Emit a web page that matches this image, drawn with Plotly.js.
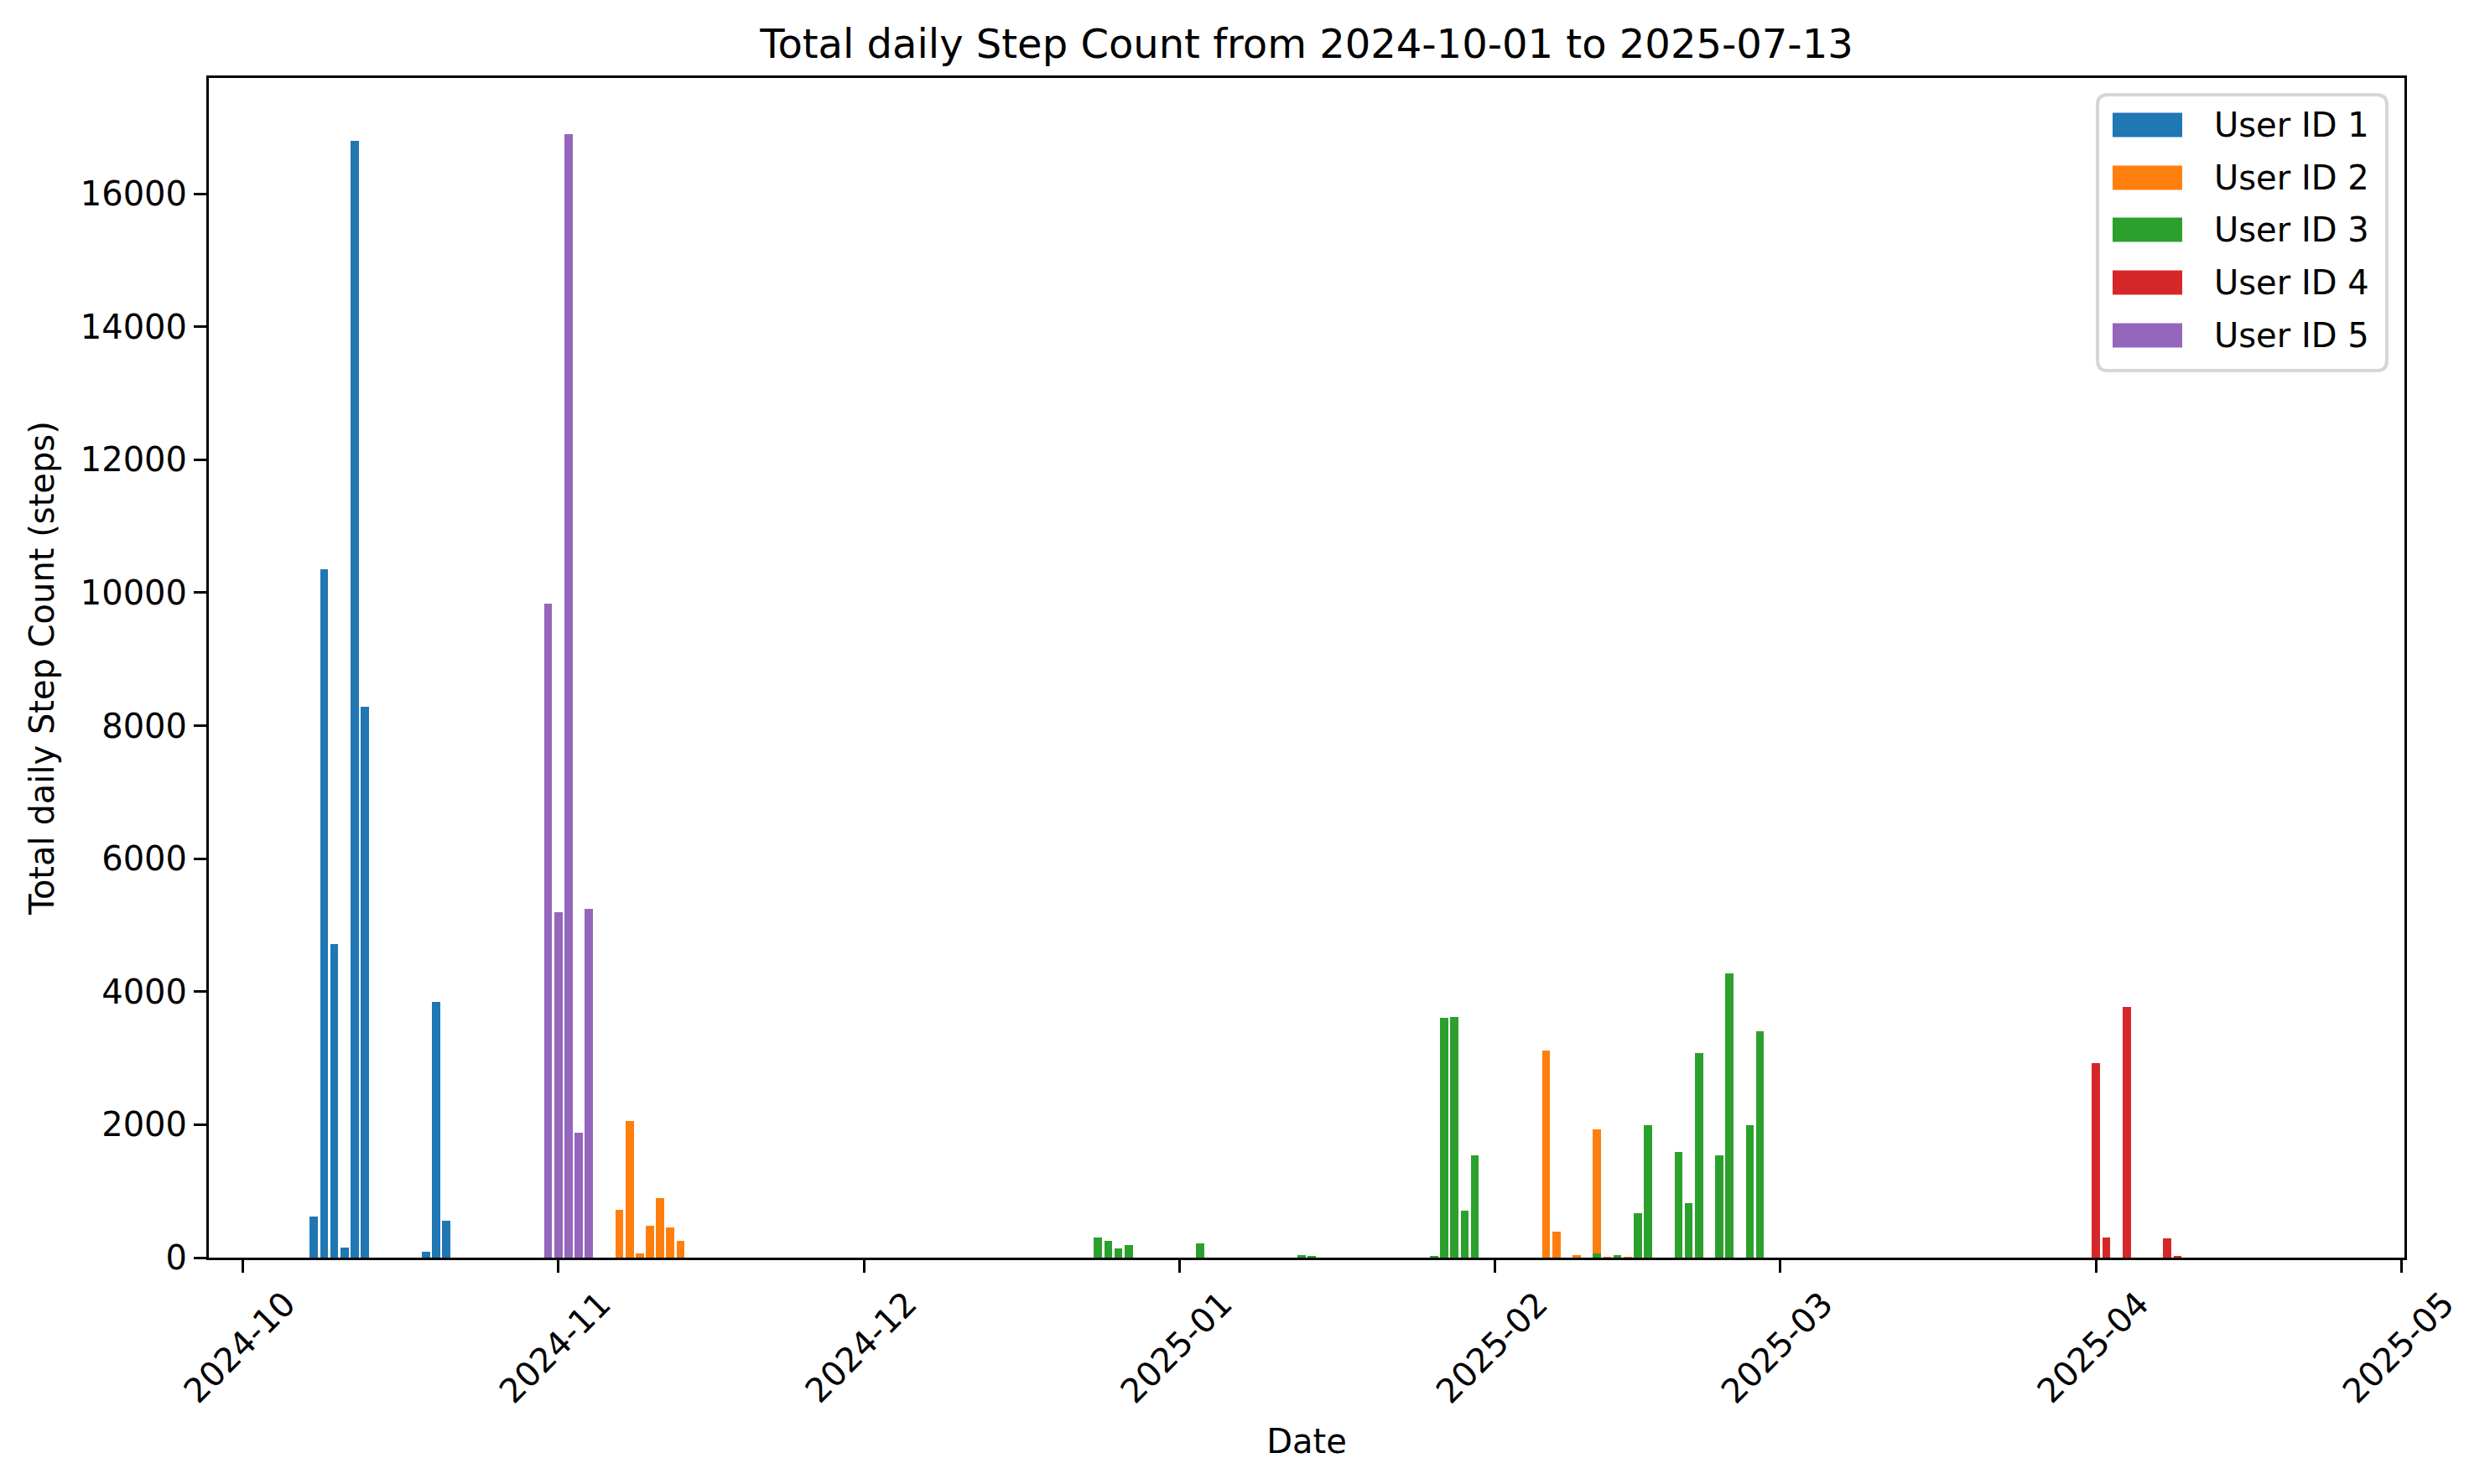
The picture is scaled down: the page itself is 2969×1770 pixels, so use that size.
<!DOCTYPE html>
<html>
<head>
<meta charset="utf-8">
<script src="https://cdn.plot.ly/plotly-3.0.1.min.js"></script>
<style>html,body{margin:0;padding:0;background:#fff}</style>
</head>
<body>
<div id="chart" style="width:2969px;height:1770px"></div>
<script>
// ---- data ----
const user1Dates = ['2024-10-08','2024-10-09','2024-10-10','2024-10-11','2024-10-12','2024-10-13','2024-10-19','2024-10-20','2024-10-21'];
const user1Steps = [620, 10350, 4715, 150, 16790, 8280, 85, 3850, 560];

const user2Dates = ['2024-11-07','2024-11-08','2024-11-09','2024-11-10','2024-11-11','2024-11-12','2024-11-13','2025-02-06','2025-02-07','2025-02-09','2025-02-11','2025-02-12','2025-02-14'];
const user2Steps = [720, 2060, 60, 480, 890, 450, 250, 3110, 390, 38, 1930, 13, 13];

const user3Dates = ['2024-12-24','2024-12-25','2024-12-26','2024-12-27','2025-01-03','2025-01-13','2025-01-14','2025-01-26','2025-01-27','2025-01-28','2025-01-29','2025-01-30','2025-02-11','2025-02-13','2025-02-15','2025-02-16','2025-02-19','2025-02-20','2025-02-21','2025-02-23','2025-02-24','2025-02-26','2025-02-27'];
const user3Steps = [300, 252, 138, 189, 214, 38, 25, 25, 3600, 3615, 705, 1537, 67, 38, 667, 1990, 1587, 819, 3073, 1537, 4270, 1990, 3400];

const user4Dates = ['2025-04-01','2025-04-02','2025-04-04','2025-04-08','2025-04-09'];
const user4Steps = [2930, 298, 3765, 285, 21];

const user5Dates = ['2024-10-31','2024-11-01','2024-11-02','2024-11-03','2024-11-04'];
const user5Steps = [9840, 5200, 16890, 1880, 5240];

const seriesNames = ['User ID 1','User ID 2','User ID 3','User ID 4','User ID 5'];
const seriesColors = ['#1f77b4','#ff7f0e','#2ca02c','#d62728','#9467bd'];
const monthTicks = ['2024-10-01','2024-11-01','2024-12-01','2025-01-01','2025-02-01','2025-03-01','2025-04-01','2025-05-01'];
const monthLabels = ['2024-10','2024-11','2024-12','2025-01','2025-02','2025-03','2025-04','2025-05'];
const yTicks = [0,2000,4000,6000,8000,10000,12000,14000,16000];

// ---- build ----
const FONT = 'DejaVu Sans, Liberation Sans, sans-serif';
const allDates = [user1Dates,user2Dates,user3Dates,user4Dates,user5Dates];
const allSteps = [user1Steps,user2Steps,user3Steps,user4Steps,user5Steps];
const DAY = 86400000;

const traces = seriesNames.map((name,i)=>({
  type:'bar', name:name, x:allDates[i], y:allSteps[i],
  width: allDates[i].map(()=>0.8*DAY),
  marker:{color:seriesColors[i], line:{width:0}},
  showlegend:false, hoverinfo:'x+y+name'
}));

// plot area in pixels
const L=249, R=2867, T=93, B=1500;
const px = x => (x-L)/(R-L);
const py = y => (B-y)/(B-T);

const shapes = [];
const annotations = [];

// x tick labels (rotated, centered under ticks like matplotlib)
monthTicks.forEach((t,i)=>{
  annotations.push({x:t, xref:'x', y:0, yref:'paper', text:monthLabels[i], textangle:-45,
    showarrow:false, xanchor:'center', yanchor:'middle', xshift:-4, yshift:-107,
    font:{family:FONT, size:40, color:'#000'}});
});

// legend
const lx0=2501, lx1=2846, ly0=113, ly1=442, r=12;
shapes.push({type:'path', xref:'paper', yref:'paper', layer:'above',
  path:`M ${px(lx0+r)},${py(ly0)} L ${px(lx1-r)},${py(ly0)} Q ${px(lx1)},${py(ly0)} ${px(lx1)},${py(ly0+r)} L ${px(lx1)},${py(ly1-r)} Q ${px(lx1)},${py(ly1)} ${px(lx1-r)},${py(ly1)} L ${px(lx0+r)},${py(ly1)} Q ${px(lx0)},${py(ly1)} ${px(lx0)},${py(ly1-r)} L ${px(lx0)},${py(ly0+r)} Q ${px(lx0)},${py(ly0)} ${px(lx0+r)},${py(ly0)} Z`,
  fillcolor:'rgba(255,255,255,0.8)', line:{color:'#d6d6d6', width:4}});
const rowC = [149, 212, 274, 337, 400];
seriesNames.forEach((name,i)=>{
  shapes.push({type:'rect', xref:'paper', yref:'paper', layer:'above',
    x0:px(2519), x1:px(2602), y0:py(rowC[i]+14.5), y1:py(rowC[i]-14.5),
    fillcolor:seriesColors[i], line:{width:0}});
  annotations.push({x:px(2638), xref:'paper', y:py(rowC[i]), yref:'paper', text:name,
    showarrow:false, xanchor:'left', yanchor:'middle',
    font:{family:FONT, size:40, color:'#000'}});
});

const layout = {
  width:2969, height:1770,
  margin:{l:L, r:2969-R, t:T, b:1770-B, pad:0},
  paper_bgcolor:'#fff', plot_bgcolor:'#fff',
  barmode:'overlay', bargap:0,
  font:{family:FONT, size:40, color:'#000'},
  title:{text:'Total daily Step Count from 2024-10-01 to 2025-07-13',
    font:{family:FONT, size:48, color:'#000'},
    x:0.5, xref:'paper', xanchor:'center', y:1-52/1770, yref:'container', yanchor:'middle'},
  xaxis:{type:'date', range:['2024-09-27 16:20','2025-05-01 06:43'],
    tickmode:'array', tickvals:monthTicks, showticklabels:false,
    ticks:'outside', ticklen:15, tickwidth:3, tickcolor:'#000',
    showline:true, linecolor:'#000', linewidth:3, mirror:true,
    showgrid:false, zeroline:false,
    title:{text:'Date', font:{family:FONT, size:40, color:'#000'}, standoff:188}},
  yaxis:{range:[0,17740], tickmode:'array', tickvals:yTicks, ticktext:yTicks.map(String),
    ticks:'outside', ticklen:15, tickwidth:3, tickcolor:'#000',
    tickfont:{family:FONT, size:40, color:'#000'},
    showline:true, linecolor:'#000', linewidth:3, mirror:true,
    showgrid:false, zeroline:false,
    title:{text:'Total daily Step Count (steps)', font:{family:FONT, size:40, color:'#000'}, standoff:19}},
  shapes:shapes, annotations:annotations
};

Plotly.newPlot('chart', traces, layout, {staticPlot:true, displayModeBar:false});
</script>
</body>
</html>
